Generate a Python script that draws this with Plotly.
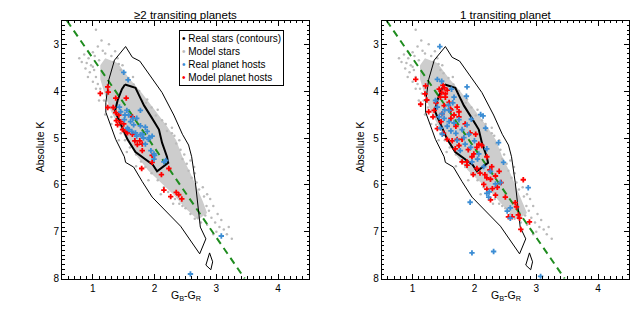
import plotly.graph_objects as go
from plotly.subplots import make_subplots

# ---- data ----
# contours of the real stars (same in both panels)
outer_x = [1.53, 1.64, 1.76, 1.94, 2.12, 2.31, 2.45, 2.55, 2.60, 2.66, 2.72, 2.74, 2.83,
           2.73, 2.42, 2.12, 1.96, 1.80, 1.66, 1.53, 1.51, 1.37, 1.28, 1.21, 1.21, 1.26, 1.35, 1.53]
outer_y = [3.05, 3.28, 3.36, 3.69, 4.03, 4.51, 4.92, 5.15, 5.40, 5.95, 6.64, 6.90, 7.15,
           7.47, 6.88, 6.47, 6.26, 5.93, 5.62, 5.52, 5.40, 5.03, 4.70, 4.45, 4.24, 3.75, 3.34, 3.05]
inner_x = [1.52, 1.69, 1.77, 1.83, 1.95, 2.07, 2.12, 2.20, 2.22, 2.04, 1.97, 1.83, 1.69,
           1.56, 1.45, 1.39, 1.36, 1.40, 1.47, 1.52]
inner_y = [3.86, 3.93, 4.15, 4.31, 4.56, 4.82, 5.10, 5.40, 5.53, 5.71, 5.57, 5.44, 5.30,
           5.03, 4.72, 4.52, 4.42, 4.20, 3.96, 3.86]
blob_x = [2.89, 2.94, 2.91, 2.83, 2.89]
blob_y = [7.45, 7.64, 7.81, 7.71, 7.45]

# dashed reference line
line_x = [0.58, 3.46]
line_y = [2.50, 8.00]

# model stars: dense core outline + scattered stars round it
core_x = [1.20, 1.40, 1.60, 1.80, 2.00, 2.20, 2.35, 2.45, 2.58, 2.68, 2.78, 2.85,
          2.70, 2.50, 2.30, 2.10, 1.90, 1.72, 1.55, 1.42, 1.30, 1.20, 1.12, 1.12]
core_y = [3.30, 3.40, 3.75, 4.05, 4.40, 4.75, 5.05, 5.40, 5.75, 6.05, 6.35, 6.60,
          6.75, 6.50, 6.20, 5.95, 5.70, 5.40, 5.05, 4.75, 4.45, 4.10, 3.75, 3.45]
model_x = [1.05, 0.82, 0.90, 0.93, 1.00, 1.16, 1.26, 1.10, 0.97, 1.03, 1.08, 1.20, 1.30,
           1.33, 0.88, 0.95, 1.02, 1.05, 1.08, 1.12, 1.45, 1.50, 1.58, 1.62, 1.75, 1.80,
           1.95, 2.02, 2.12, 2.20, 2.32, 2.35, 2.42, 2.45, 2.52, 2.55, 2.60, 2.68, 2.72,
           2.80, 2.84, 2.88, 2.92, 2.98, 3.05, 3.00, 3.17, 3.12, 2.95, 2.85, 2.75, 2.70,
           2.58, 2.50, 2.40, 2.33, 2.22, 2.15, 2.05, 1.95, 1.85, 1.78, 1.70, 1.60, 1.52,
           1.45, 1.38, 1.30, 1.25, 1.18, 1.15, 1.42, 1.66, 1.86, 2.28, 2.64, 2.90, 1.00,
           1.14, 0.86, 0.78, 1.36, 1.40, 1.48, 1.65, 1.70, 1.88, 2.05, 2.18, 2.28, 2.40,
           2.48, 2.58, 2.65, 2.78, 2.85, 2.95, 3.02, 3.08, 2.82, 2.65, 2.45, 2.30, 2.10,
           1.90, 1.70, 1.55, 1.42, 1.30, 1.20, 1.10, 1.05, 1.00, 0.92, 3.25, 3.20]
model_y = [2.69, 3.38, 3.40, 3.30, 3.17, 3.14, 3.00, 3.34, 3.45, 3.25, 3.05, 3.20, 3.25,
           3.38, 3.52, 3.60, 3.55, 3.70, 3.85, 3.95, 3.55, 3.62, 3.72, 3.90, 4.00, 4.20,
           4.35, 4.52, 4.62, 4.85, 4.95, 5.12, 5.25, 5.45, 5.55, 5.70, 5.85, 5.95, 6.10,
           6.25, 6.45, 6.55, 6.70, 6.80, 6.90, 7.00, 7.05, 6.95, 7.05, 6.85, 6.80, 6.70,
           6.62, 6.50, 6.40, 6.30, 6.15, 6.05, 5.90, 5.75, 5.62, 5.50, 5.35, 5.20, 5.05,
           4.90, 4.72, 4.55, 4.35, 4.20, 4.05, 3.42, 3.86, 4.25, 4.78, 5.62, 6.30, 3.48,
           2.92, 3.22, 3.30, 3.15, 3.30, 3.45, 3.70, 3.95, 4.18, 4.40, 4.70, 4.90, 5.05,
           5.35, 5.48, 5.75, 6.05, 6.20, 6.45, 6.62, 6.75, 6.65, 6.72, 6.45, 6.40, 6.20,
           5.90, 5.60, 5.30, 5.05, 4.70, 4.50, 4.20, 3.95, 3.80, 3.70, 7.15, 6.90]

# >=2 transiting planets
real2_x = [1.50, 1.57, 1.43, 1.45, 1.55, 1.52, 1.58, 1.65, 1.71, 1.61, 1.66, 1.77, 1.85,
           1.58, 1.63, 1.69, 1.71, 1.77, 1.88, 1.82, 1.90, 1.96, 1.99, 1.77, 1.51, 1.56,
           1.80, 1.91, 1.85, 1.94, 2.00, 2.15, 1.99, 2.18, 3.08, 2.58]
real2_y = [3.60, 3.76, 4.34, 4.44, 4.41, 4.51, 4.51, 4.58, 4.58, 4.65, 4.72, 4.74, 4.77,
           4.82, 4.86, 4.89, 4.96, 4.93, 4.86, 5.00, 5.03, 4.96, 5.34, 4.41, 4.61, 4.79,
           4.92, 4.99, 5.13, 5.27, 5.37, 5.51, 5.45, 5.48, 7.09, 7.90]
model2_x = [1.24, 1.25, 1.12, 1.37, 1.54, 1.24, 1.33, 1.37, 1.42, 1.38, 1.40, 1.50, 1.48,
            1.54, 1.64, 1.72, 1.80, 1.96, 1.80, 1.45, 1.56, 1.68, 1.76, 1.64, 1.79, 1.96,
            2.11, 2.23, 2.15, 2.26, 2.35, 2.39, 2.44]
model2_y = [3.91, 4.02, 4.05, 4.15, 4.15, 4.35, 4.35, 4.46, 4.51, 4.63, 4.72, 4.70, 4.82,
            4.86, 4.92, 5.14, 5.13, 5.37, 5.27, 4.65, 4.89, 5.06, 5.06, 4.55, 5.65, 5.52,
            5.78, 5.65, 6.11, 6.25, 6.16, 6.21, 6.30]

# 1 transiting planet
real1_x = [1.44, 1.40, 1.47, 1.88, 1.87, 1.63, 1.67, 1.37, 1.40, 1.58, 2.10, 2.14, 1.48,
           1.59, 1.43, 1.51, 1.59, 1.67, 1.56, 1.75, 1.45, 1.48, 1.80, 1.88, 1.83, 1.91,
           1.85, 1.94, 2.00, 2.18, 2.07, 2.20, 1.77, 1.96, 2.15, 2.26, 2.34, 2.24, 2.42,
           1.93, 2.20, 2.39, 2.47, 2.87, 2.23, 2.58, 2.53, 2.58, 1.96, 2.31, 3.07, 1.70,
           1.62, 1.95, 1.72, 2.05, 1.52, 1.65]
real1_y = [3.05, 3.75, 3.79, 3.91, 4.11, 3.96, 4.13, 4.20, 4.34, 4.30, 4.50, 4.53, 4.48,
           4.41, 4.55, 4.58, 4.65, 4.68, 4.75, 4.61, 4.79, 4.92, 4.82, 4.72, 4.99, 4.92,
           5.13, 5.20, 5.06, 4.79, 5.34, 5.23, 5.27, 5.51, 5.61, 5.71, 5.98, 6.15, 5.95,
           6.37, 6.18, 5.10, 5.52, 6.06, 6.26, 6.49, 6.56, 6.71, 7.45, 7.42, 7.95, 4.90,
           4.85, 4.60, 5.05, 5.45, 4.40, 4.25]
model1_x = [1.05, 1.21, 1.20, 1.13, 1.23, 1.43, 1.47, 1.51, 1.53, 1.45, 1.53, 1.49, 1.56,
            1.59, 1.61, 1.51, 1.72, 1.75, 1.26, 1.35, 1.75, 1.67, 1.33, 1.46, 1.62, 1.56,
            1.64, 1.72, 1.80, 1.75, 1.69, 1.93, 2.02, 2.07, 2.04, 1.99, 2.12, 1.80, 1.88,
            1.96, 2.20, 2.28, 2.17, 2.34, 2.40, 2.26, 2.29, 2.37, 2.34, 2.26, 1.88, 2.04,
            1.98, 2.09, 2.25, 2.20, 2.15, 2.20, 2.79, 2.50, 2.66, 2.68, 2.55, 2.61, 2.71,
            2.73, 2.89, 2.75, 2.43, 1.40, 1.50, 1.85, 1.70, 1.62, 1.38, 1.90, 1.48]
model1_y = [3.75, 3.89, 4.06, 4.28, 4.19, 3.96, 4.03, 3.93, 4.06, 4.13, 4.13, 3.88, 3.98,
            4.24, 4.38, 4.31, 4.34, 4.44, 4.44, 4.41, 4.55, 4.51, 4.55, 4.65, 4.58, 5.03,
            5.06, 5.03, 5.03, 5.16, 5.23, 4.89, 4.92, 5.13, 5.20, 5.34, 5.16, 5.51, 5.51,
            5.40, 5.40, 5.61, 5.78, 5.81, 5.71, 5.88, 6.08, 6.05, 6.22, 6.32, 5.58, 5.65,
            5.78, 5.75, 5.68, 5.85, 5.99, 6.09, 5.89, 6.26, 6.38, 6.47, 6.68, 6.68, 6.64,
            6.71, 6.79, 6.95, 5.95, 4.80, 4.90, 4.70, 4.75, 4.40, 4.25, 5.25, 4.48]

titles = ["\u22652 transiting planets", "1 transiting planet"]

GRAY = "#cdcdcd"
DOT = "#bababa"
BLUE = "#3c8dd4"
RED = "#ff0000"
GREEN = "#1f8c1f"
FONT = "Liberation Sans, Arial, sans-serif"

# the page body has an 8px margin, so the figure is 8px smaller each way
W, H, OFF = 632, 312, 8


def px(X):
    return (X - OFF) / W


def py(Y):
    return 1 - (Y - OFF) / H


fig = make_subplots(rows=1, cols=2)

panels = [(real2_x, real2_y, model2_x, model2_y), (real1_x, real1_y, model1_x, model1_y)]
for i, (rx, ry, mx, my) in enumerate(panels):
    col = i + 1
    fig.add_trace(go.Scatter(x=core_x, y=core_y, mode="lines", fill="toself",
                             fillcolor=GRAY, line=dict(width=0, color=GRAY)), row=1, col=col)
    fig.add_trace(go.Scatter(x=model_x, y=model_y, mode="markers",
                             marker=dict(size=2.5, color=DOT)), row=1, col=col)
    fig.add_trace(go.Scatter(x=line_x, y=line_y, mode="lines",
                             line=dict(color=GREEN, width=2, dash="7px,5px")), row=1, col=col)
    fig.add_trace(go.Scatter(x=outer_x, y=outer_y, mode="lines",
                             line=dict(color="black", width=1)), row=1, col=col)
    fig.add_trace(go.Scatter(x=inner_x, y=inner_y, mode="lines",
                             line=dict(color="black", width=2)), row=1, col=col)
    fig.add_trace(go.Scatter(x=blob_x, y=blob_y, mode="lines",
                             line=dict(color="black", width=1)), row=1, col=col)
    fig.add_trace(go.Scatter(x=mx, y=my, mode="markers",
                             marker=dict(symbol="cross", size=4.5, color=RED, line=dict(width=0))),
                  row=1, col=col)
    fig.add_trace(go.Scatter(x=rx, y=ry, mode="markers",
                             marker=dict(symbol="cross", size=4.5, color=BLUE, line=dict(width=0))),
                  row=1, col=col)

axis_common = dict(showgrid=False, zeroline=False, showline=True, linecolor="black",
                   linewidth=1, mirror="ticks", ticks="inside", ticklen=5, tickcolor="black",
                   tickfont=dict(size=10, color="black", family=FONT), dtick=1, tick0=0)
xdom = [[px(62), px(309)], [px(381.7), px(629)]]
ydom = [py(284), py(21)]
for i in range(2):
    sfx = "" if i == 0 else str(i + 1)
    fig.layout["xaxis" + sfx].update(range=[0.5, 4.5], domain=xdom[i],
                                     minor=dict(ticks="inside", ticklen=2.5, dtick=0.1,
                                                tick0=0, tickcolor="black", showgrid=False),
                                     **axis_common)
    fig.layout["yaxis" + sfx].update(range=[8, 2.5], domain=ydom,
                                     minor=dict(ticks="inside", ticklen=2.5, dtick=0.1,
                                                tick0=0, tickcolor="black", showgrid=False),
                                     **axis_common)

ann = []
for i in range(2):
    cx = px(185.5 + 320 * i)
    ann.append(dict(text=titles[i], x=cx, y=1, xref="paper", yref="paper",
                    xanchor="center", yanchor="top", showarrow=False, borderpad=0,
                    font=dict(size=11.5, family=FONT, color="black")))
    ann.append(dict(text="G<sub>B</sub>-G<sub>R</sub>", x=cx, y=py(302),
                    xref="paper", yref="paper", xanchor="center", yanchor="middle",
                    showarrow=False, font=dict(size=10.5, family=FONT, color="black")))
    ann.append(dict(text="Absolute K", x=px(40 + 320 * i), y=py(150),
                    xref="paper", yref="paper", xanchor="center", yanchor="middle",
                    showarrow=False, textangle=-90,
                    font=dict(size=10.5, family=FONT, color="black")))

legend_text = ("<span style='color:black'>\u2022</span> Real stars (contours)<br>"
               f"<span style='color:{DOT}'>\u2022</span> Model stars<br>"
               f"<span style='color:{BLUE}'>\u2022</span> Real planet hosts<br>"
               f"<span style='color:{RED}'>\u2022</span> Model planet hosts")
ann.append(dict(text=legend_text, x=px(179), y=py(30), xref="paper", yref="paper",
                xanchor="left", yanchor="top", align="left", showarrow=False,
                bordercolor="black", borderwidth=1, borderpad=2, bgcolor="white",
                font=dict(size=10, family=FONT, color="black")))

fig.update_layout(width=W, height=H, margin=dict(l=0, r=0, t=0, b=0),
                  plot_bgcolor="white", paper_bgcolor="white", showlegend=False,
                  annotations=ann, font=dict(family=FONT))

fig.write_html("out.html")
